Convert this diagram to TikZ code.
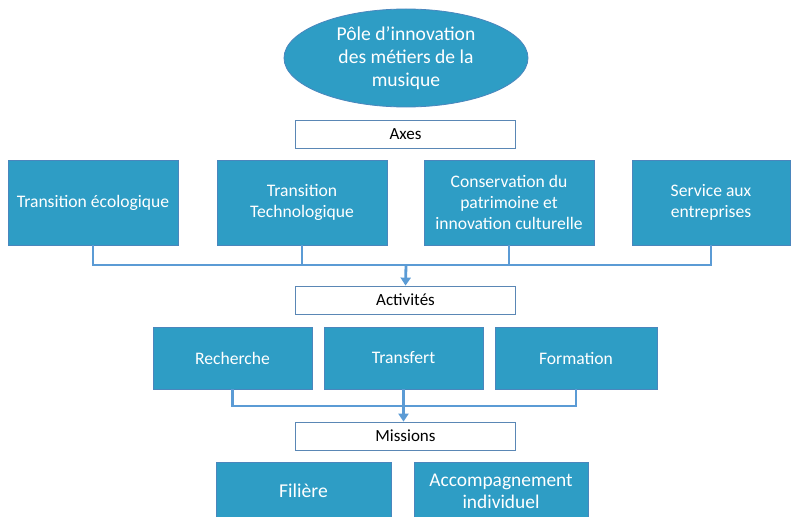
\documentclass[tikz,border=0pt]{standalone}
\usepackage{fontspec}
\setmainfont{Carlito}
\usetikzlibrary{shapes.geometric,arrows.meta}
\definecolor{boxfill}{HTML}{2E9DC5}
\definecolor{boxedge}{HTML}{4A86BD}
\definecolor{conn}{HTML}{5B9BD5}
\definecolor{labedge}{HTML}{5A87B5}
\tikzset{
  bluebox/.style={draw=boxedge, line width=0.8pt, fill=boxfill, text=white, align=center, inner sep=2pt, font=\fontsize{17.6}{21}\selectfont},
  labelbox/.style={draw=labedge, line width=0.8pt, fill=white, text=black, minimum width=220pt, minimum height=28pt, inner sep=0pt, font=\fontsize{17}{19}\selectfont},
  connline/.style={draw=conn, line width=2.8pt},
  connarrow/.style={draw=conn, line width=2.8pt, -{Triangle[width=10pt,length=8pt]}},
}
\begin{document}
\begin{tikzpicture}[x=1pt,y=-1pt]
\useasboundingbox (0,0) rectangle (791,516);
\clip (0,0) rectangle (791,516);
\node[ellipse, draw=boxedge, line width=0.8pt, fill=boxfill, text=white, align=center, minimum width=244pt, minimum height=98pt, inner sep=0pt, font=\fontsize{19.6}{23}\selectfont] (pole) at (406,58) {Pôle d’innovation\\des métiers de la\\musique};
\node[labelbox] (axes) at (405.5,134) {Axes};
\node[bluebox, minimum width=170pt, minimum height=85pt] (b1) at (93,202.5) {Transition écologique};
\node[bluebox, minimum width=170pt, minimum height=85pt] (b2) at (302,202.5) {Transition\\Technologique};
\node[bluebox, minimum width=170pt, minimum height=85pt] (b3) at (509,202.5) {Conservation du\\patrimoine et\\innovation culturelle};
\node[bluebox, minimum width=158pt, minimum height=85pt] (b4) at (711,202.5) {Service aux\\entreprises};
\coordinate (bus1) at (406,265);
\node[labelbox] (act) at (405.5,300) {Activités};
\draw[connline] (b1.south) -- (b1.south |- bus1) -- (b4.south |- bus1) -- (b4.south);
\draw[connline] (b2.south) -- (b2.south |- bus1);
\draw[connline] (b3.south) -- (b3.south |- bus1);
\draw[connarrow] (bus1) -- (act.north);
\node[bluebox, minimum width=159pt, minimum height=62pt] (r) at (232.5,358) {Recherche};
\node[bluebox, minimum width=159pt, minimum height=62pt] (t) at (403.5,358) {Transfert};
\node[bluebox, minimum width=162pt, minimum height=62pt] (f) at (576,358) {Formation};
\coordinate (bus2) at (405,406);
\node[labelbox] (mis) at (405.5,436) {Missions};
\draw[connline] (r.south) -- (r.south |- bus2) -- (f.south |- bus2) -- (f.south);
\draw[connarrow] (t.south) -- (t.south |- mis.north);
\node[bluebox, minimum width=175pt, minimum height=58pt, font=\fontsize{19.6}{22}\selectfont] (fil) at (303.5,491) {Filière};
\node[bluebox, minimum width=174pt, minimum height=58pt, font=\fontsize{19.4}{22}\selectfont] (acc) at (501,491) {Accompagnement\\individuel};
\end{tikzpicture}
\end{document}
